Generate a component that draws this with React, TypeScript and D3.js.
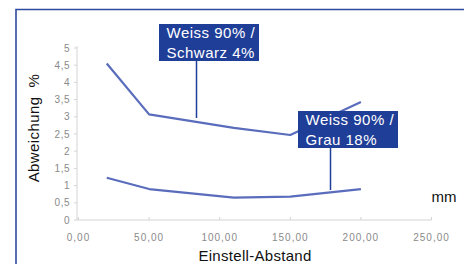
import React from "react";
import * as d3 from "d3";

const xValues = [20, 50, 110, 150, 200];
const schwarzValues = [4.55, 3.07, 2.68, 2.47, 3.43];
const grauValues = [1.23, 0.9, 0.65, 0.68, 0.9];
const xTicks = [0, 50, 100, 150, 200, 250];
const yTicks = [0, 0.5, 1, 1.5, 2, 2.5, 3, 3.5, 4, 4.5, 5];
const labelSchwarz = ["Weiss 90% /", "Schwarz 4%"];
const labelGrau = ["Weiss 90% /", "Grau 18%"];

const W = 464;
const H = 264;

export default function App() {
  const x = d3.scaleLinear().domain([0, 250]).range([78.5, 431.5]);
  const y = d3.scaleLinear().domain([0, 5]).range([220, 48]);
  const line = d3
    .line<number>()
    .x((_, i) => x(xValues[i]))
    .y((d) => y(d));

  const fmtX = (v: number) => v.toFixed(2).replace(".", ",");
  const fmtY = (v: number) => String(v).replace(".", ",");

  const font = "'Liberation Sans', Arial, sans-serif";
  const boxColor = "#1f3e98";

  const callout = (
    lines: string[],
    bx: number,
    by: number,
    lx: number,
    ly: number
  ) => (
    <g>
      <line x1={lx} x2={lx} y1={by + 37} y2={ly} stroke={boxColor} strokeWidth={1.5} />
      <rect x={bx} y={by} width={100} height={37} fill={boxColor} />
      {lines.map((t, i) => (
        <text
          key={i}
          x={bx + 7.5}
          y={by + 14 + i * 19.5}
          fill="#ffffff"
          fontSize={15}
          letterSpacing={0.5}
          fontFamily={font}
        >
          {t}
        </text>
      ))}
    </g>
  );

  return (
    <svg
      width={W}
      height={H}
      style={{ position: "absolute", left: 0, top: 0, background: "#fff" }}
    >
      {/* frame */}
      <path d={`M16,${H} L16,9.5 L${W},9.5`} fill="none" stroke="#2d4a9f" strokeWidth={1.6} />

      {/* axes */}
      <line x1={x(0) - 1.5} x2={x(250)} y1={y(0)} y2={y(0)} stroke="#d4d4d4" strokeWidth={1} />
      <line x1={x(0) - 1.5} x2={x(0) - 1.5} y1={y(0)} y2={y(5) - 2} stroke="#d4d4d4" strokeWidth={1} />
      {xTicks.map((t) => (
        <g key={"x" + t}>
          <line x1={x(t)} x2={x(t)} y1={y(0)} y2={y(0) - 3} stroke="#d4d4d4" />
          <text
            x={x(t)}
            y={241}
            textAnchor="middle"
            fontSize={10}
            letterSpacing={1}
            fill="#8a8a8a"
            fontFamily={font}
          >
            {fmtX(t)}
          </text>
        </g>
      ))}
      {yTicks.map((t) => (
        <g key={"y" + t}>
          <line x1={x(0) - 4.5} x2={x(0) - 1.5} y1={y(t)} y2={y(t)} stroke="#d4d4d4" />
          <text
            x={70}
            y={y(t) + 3.5}
            textAnchor="end"
            fontSize={10}
            letterSpacing={0.5}
            fill="#8a8a8a"
            fontFamily={font}
          >
            {fmtY(t)}
          </text>
        </g>
      ))}

      {/* series */}
      <path d={line(schwarzValues) || ""} fill="none" stroke="#5a6cbc" strokeWidth={2.2} strokeLinejoin="round" />
      <path d={line(grauValues) || ""} fill="none" stroke="#5a6cbc" strokeWidth={2.2} strokeLinejoin="round" />

      {/* callouts */}
      {callout(labelSchwarz, 159, 24, 196.5, 118)}
      {callout(labelGrau, 298, 111, 330.5, 190)}

      {/* axis titles */}
      <text
        transform="translate(39,128) rotate(-90)"
        textAnchor="middle"
        fontSize={15}
        letterSpacing={0.4}
        fill="#111"
        fontFamily={font}
        style={{ whiteSpace: "pre" }}
      >
        {"Abweichung  %"}
      </text>
      <text x={431.5} y={202} fontSize={15} fill="#111" fontFamily={font}>
        mm
      </text>
      <text
        x={255}
        y={261}
        textAnchor="middle"
        fontSize={15}
        letterSpacing={0.3}
        fill="#111"
        fontFamily={font}
      >
        Einstell-Abstand
      </text>
    </svg>
  );
}
